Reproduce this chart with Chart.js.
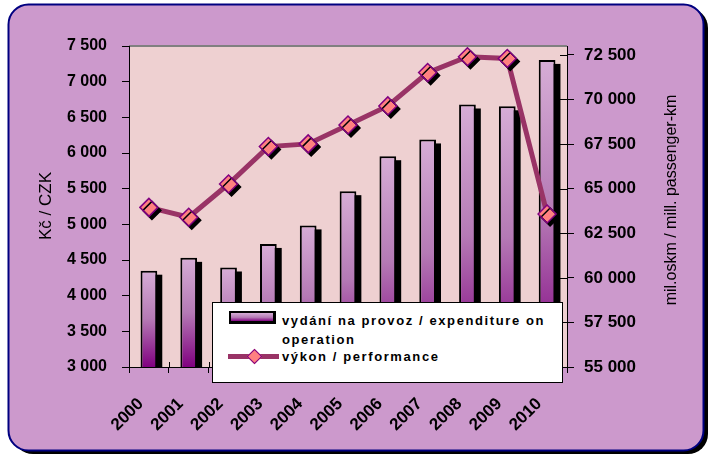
<!DOCTYPE html>
<html>
<head>
<meta charset="utf-8">
<script src="https://cdn.jsdelivr.net/npm/chart.js@4.4.1/dist/chart.umd.min.js"></script>
<style>
  body { margin: 0; background: #fff; }
  #wrap { position: relative; width: 717px; height: 462px; }
  #legend {
    position: absolute; left: 212px; top: 302px; width: 349px; height: 79px;
    background: #fff; border: 1px solid #000;
    font: bold 13px "Liberation Sans", Arial, sans-serif; letter-spacing: 1.6px; color: #000;
  }
  .item { position: absolute; left: 69px; width: 272px; line-height: 19px; }
  .barSwatch {
    position: absolute; left: 16px; top: 8px; width: 42px; height: 8px;
    border: 2px solid #000; border-right-width: 3px; border-bottom-width: 3px;
    background: linear-gradient(#d6add6, #b57ab5 55%, #800080);
  }
  .lineSwatch { position: absolute; left: 15px; top: 51px; width: 51px; height: 5px; background: #993366; }
  .diamond {
    position: absolute; left: 36px; top: 48px; width: 9px; height: 9px;
    background: #ff8080; border: 1.5px solid #800080; transform: rotate(45deg);
  }
</style>
</head>
<body>
<div id="wrap">
  <canvas id="chart" width="717" height="462"></canvas>
  <div id="legend"></div>
</div>
<script>
const years = ['2000', '2001', '2002', '2003', '2004', '2005', '2006', '2007', '2008', '2009', '2010'];
const expenditure = [4350, 4530, 4395, 4725, 4985, 5465, 5955, 6190, 6680, 6655, 7305];
const performance = [63950, 63400, 65260, 67360, 67510, 68570, 69640, 71510, 72400, 72300, 63580];
const seriesNames = ['vydání na provoz / expenditure on operation', 'výkon / performance'];
const leftTitle = 'Kč / CZK';
const rightTitle = 'mil.oskm / mill. passenger-km';
const leftRange = [3000, 7500, 500];
const rightRange = [55000, 73000, 2500];
const rightTicks = [55000, 57500, 60000, 62500, 65000, 67500, 70000, 72500];

function spaced(v) {
  return String(v).replace(/\B(?=(\d{3})+(?!\d))/g, ' ');
}

// legend as plain html
const legend = document.getElementById('legend');
legend.innerHTML = `
  <div class="barSwatch"></div>
  <div class="item" style="top:8px">${seriesNames[0]}</div>
  <div class="lineSwatch"></div><div class="diamond"></div>
  <div class="item" style="top:44px">${seriesNames[1]}</div>`;

const framePlugin = {
  id: 'frame',
  beforeDraw(chart) {
    const { ctx, chartArea: a } = chart;
    ctx.save();
    ctx.fillStyle = '#fff';
    ctx.fillRect(0, 0, chart.width, chart.height);
    ctx.fillStyle = '#000';
    ctx.beginPath();
    ctx.roundRect(13, 8, 695, 446, 20);
    ctx.fill();
    ctx.beginPath();
    ctx.roundRect(8.5, 4.5, 695, 446, 20);
    ctx.fillStyle = '#cc99cc';
    ctx.fill();
    ctx.lineWidth = 2;
    ctx.strokeStyle = '#000080';
    ctx.stroke();
    // plot area
    ctx.fillStyle = '#eed0d1';
    ctx.fillRect(a.left, a.top, a.right - a.left, a.bottom - a.top);
    ctx.strokeStyle = '#808080';
    ctx.lineWidth = 2;
    ctx.beginPath();
    ctx.moveTo(a.left, a.top);
    ctx.lineTo(a.right, a.top);
    ctx.stroke();
    ctx.restore();
  },
  beforeDatasetDraw(chart, args) {
    const ctx = chart.ctx;
    if (args.meta.type === 'bar') {
      const bottom = chart.chartArea.bottom;
      ctx.save();
      ctx.fillStyle = '#000';
      args.meta.data.forEach(el => {
        const p = el.getProps(['x', 'y', 'width'], true);
        ctx.fillRect(p.x - p.width / 2 + 5, p.y + 4, p.width, bottom - p.y - 4);
      });
      ctx.restore();
    }
    if (args.index === 0) {
      ctx.save();
      ctx.shadowColor = '#000';
      ctx.shadowOffsetX = 3;
      ctx.shadowOffsetY = 3;
      ctx.shadowBlur = 0;
    }
  },
  afterDatasetDraw(chart, args) {
    if (args.index === 0) chart.ctx.restore();
  },
  afterDraw(chart) {
    const { ctx, chartArea: a, scales } = chart;
    ctx.save();
    ctx.strokeStyle = '#000';
    ctx.lineWidth = 1;
    ctx.beginPath();
    scales.y1.ticks.forEach(t => {
      const py = Math.round(scales.y1.getPixelForValue(t.value)) + 0.5;
      ctx.moveTo(a.right - 7, py);
      ctx.lineTo(a.right, py);
    });
    for (let i = 0; i <= years.length; i++) {
      const px = Math.round(a.left + (a.right - a.left) * i / years.length) + 0.5;
      ctx.moveTo(px, a.bottom - 5);
      ctx.lineTo(px, a.bottom);
    }
    ctx.stroke();
    ctx.fillStyle = '#000';
    ctx.font = '17px "Liberation Sans", Arial, sans-serif';
    ctx.textAlign = 'center';
    ctx.textBaseline = 'middle';
    ctx.translate(46, 206);
    ctx.rotate(-Math.PI / 2);
    ctx.fillText(leftTitle, 0, 0);
    ctx.restore();
    ctx.save();
    ctx.fillStyle = '#000';
    ctx.font = '16px "Liberation Sans", Arial, sans-serif';
    ctx.textAlign = 'center';
    ctx.textBaseline = 'middle';
    ctx.translate(672, 200);
    ctx.rotate(-Math.PI / 2);
    ctx.fillText(rightTitle, 0, 0);
    ctx.restore();
  }
};

function barGradient(c) {
  const chart = c.chart;
  const y = chart.scales.y;
  if (!chart.chartArea || !y || c.type !== 'data') return '#b57ab5';
  const top = y.getPixelForValue(c.raw);
  const bottom = y.getPixelForValue(leftRange[0]);
  const g = chart.ctx.createLinearGradient(0, top, 0, bottom);
  g.addColorStop(0, '#d6add6');
  g.addColorStop(0.5, '#b57ab5');
  g.addColorStop(1, '#800080');
  return g;
}

new Chart(document.getElementById('chart').getContext('2d'), {
  data: {
    labels: years,
    datasets: [
      {
        type: 'line',
        label: seriesNames[1],
        data: performance,
        yAxisID: 'y1',
        showLine: false,
        pointStyle: 'rectRot',
        pointRadius: 9,
        pointBackgroundColor: '#ff8080',
        pointBorderColor: '#800080',
        pointBorderWidth: 1.5,
        order: 0
      },
      {
        type: 'line',
        label: seriesNames[1],
        data: performance,
        yAxisID: 'y1',
        borderColor: '#993366',
        borderWidth: 5,
        pointRadius: 0,
        tension: 0,
        order: 1
      },
      {
        type: 'bar',
        label: seriesNames[0],
        data: expenditure,
        yAxisID: 'y',
        backgroundColor: barGradient,
        borderColor: '#000',
        borderWidth: 2,
        borderSkipped: 'bottom',
        categoryPercentage: 1,
        barPercentage: 0.42,
        order: 2
      }
    ]
  },
  options: {
    responsive: false,
    animation: false,
    layout: { padding: { top: 46, left: 0, right: 0, bottom: 0 } },
    plugins: { legend: { display: false }, tooltip: { enabled: false } },
    scales: {
      x: {
        offset: true,
        grid: { drawOnChartArea: false, tickLength: 6, color: '#000', offset: true },
        border: { color: '#000' },
        ticks: {
          color: '#000', autoSkip: false, minRotation: 45, maxRotation: 45,
          padding: 21, labelOffset: -8,
          font: { family: '"Liberation Sans", Arial, sans-serif', size: 17, weight: 'bold' }
        },
        afterFit: s => { s.height = 95; }
      },
      y: {
        position: 'left',
        min: leftRange[0], max: leftRange[1],
        grid: { drawOnChartArea: false, tickLength: 7, color: '#000' },
        border: { color: '#000' },
        ticks: {
          stepSize: leftRange[2], color: '#000', padding: 15, autoSkip: false, callback: spaced,
          font: { family: '"Liberation Sans", Arial, sans-serif', size: 16, weight: 'bold' }
        },
        afterFit: s => { s.width = 129; }
      },
      y1: {
        position: 'right',
        min: rightRange[0], max: rightRange[1],
        grid: { drawOnChartArea: false, tickLength: 7, color: '#000' },
        border: { color: '#000' },
        ticks: {
          color: '#000', padding: 10, autoSkip: false, callback: spaced,
          font: { family: '"Liberation Sans", Arial, sans-serif', size: 17, weight: 'bold' }
        },
        afterBuildTicks: s => { s.ticks = rightTicks.map(v => ({ value: v })); },
        afterFit: s => { s.width = 150; }
      }
    }
  },
  plugins: [framePlugin]
});
</script>
</body>
</html>
